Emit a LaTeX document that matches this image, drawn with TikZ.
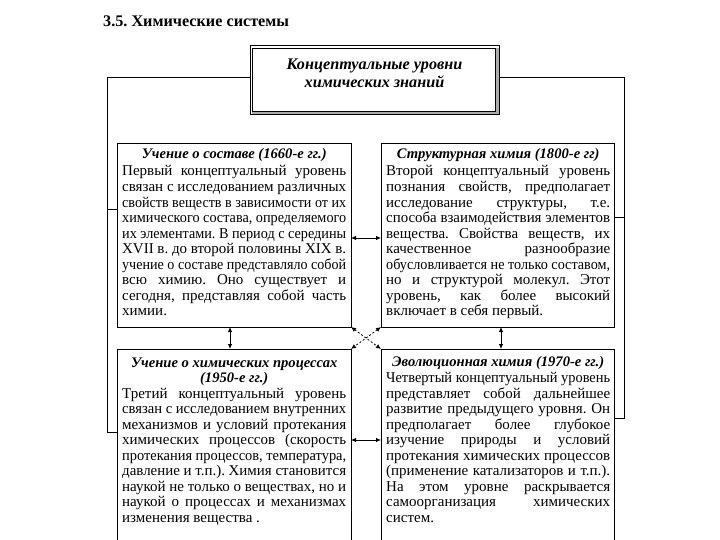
\documentclass[tikz,border=0pt]{standalone}
\usepackage{fontspec}
\setmainfont{Liberation Serif}
\usetikzlibrary{arrows.meta}
\frenchspacing
\newlength\lnw
\newlength\colw
\setlength\colw{224pt}
\newcommand\jl[1]{\settowidth\lnw{#1}\ifdim\lnw>\colw\resizebox{\colw}{\height}{#1}\else\makebox[\colw][s]{#1}\fi}
\newcommand\lastl[1]{\makebox[\colw][l]{#1}}
\newcommand\ttl[1]{\makebox[\colw][c]{\fontsize{14.6}{15.55}\selectfont\bfseries\itshape #1}}
\tikzset{
  boxn/.style={draw, line width=0.8pt, inner sep=0, outer sep=0},
  openbox/.style={inner sep=0, outer sep=0},
  txt/.style={anchor=base west, inner sep=0, font=\fontsize{15}{15.55}\selectfont},
  conn/.style={line width=0.8pt},
  darr/.style={line width=0.8pt, {Latex[length=5pt,width=4.5pt]}-{Latex[length=5pt,width=4.5pt]}},
}
\begin{document}
\begin{tikzpicture}[x=1pt,y=-1pt]
\useasboundingbox (0,0) rectangle (720,540);
\fill[white] (0,0) rectangle (720,540);

\node[anchor=base west, inner sep=0, font=\fontsize{16.2}{18}\selectfont\bfseries] (title) at (103,26.5) {3.5. Химические системы};

% top box
\node[openbox, minimum width=249, minimum height=69] (b0) at (374.5,80.5) {};
\fill[gray!65] ([shift={(2,-4)}]b0.south west) rectangle (b0.south east);
\fill[gray!65] ([shift={(-4,2)}]b0.north east) rectangle (b0.south east);
\draw[line width=1pt] (b0.north west) rectangle (b0.south east);
\draw[line width=0.6pt] ([shift={(2,2)}]b0.north west) rectangle ([shift={(-4,-4)}]b0.south east);
\node[align=center, inner sep=0, font=\fontsize{16.2}{18}\selectfont\bfseries\itshape] (t0) at (374.5,73) {Концептуальные уровни\\химических знаний};

% boxes
\node[boxn, minimum width=234, minimum height=184] (b1) at (234,235) {};
\node[boxn, minimum width=233, minimum height=184] (b2) at (497.5,235) {};
\node[openbox, minimum width=234, minimum height=191] (b3) at (234,444.5) {};
\node[openbox, minimum width=233, minimum height=191] (b4) at (497.5,444.5) {};
\draw[line width=0.8pt] (b3.south west) -- (b3.north west) -- (b3.north east) -- (b3.south east);
\draw[line width=0.8pt] (b4.south west) -- (b4.north west) -- (b4.north east) -- (b4.south east);

\node[txt] (t1) at (122,159) {\parbox[t]{\colw}{\ttl{Учение о составе (1660-е гг.)}\\[1.4pt]
\jl{Первый концептуальный уровень}\\
\jl{связан с исследованием различных}\\
\jl{свойств веществ в зависимости от их}\\
\jl{химического состава, определяемого}\\
\jl{их элементами. В период с середины}\\
\jl{XVII в. до второй половины XIX в.}\\
\jl{учение о составе представляло собой}\\
\jl{всю химию. Оно существует и}\\
\jl{сегодня, представляя собой часть}\\
\lastl{химии.}}};

\node[txt] (t2) at (386,159) {\parbox[t]{\colw}{\ttl{Структурная химия (1800-е гг)}\\[1.4pt]
\jl{Второй концептуальный уровень}\\
\jl{познания свойств, предполагает}\\
\jl{исследование структуры, т.е.}\\
\jl{способа взаимодействия элементов}\\
\jl{вещества. Свойства веществ, их}\\
\jl{качественное разнообразие}\\
\jl{обусловливается не только составом,}\\
\jl{но и структурой молекул. Этот}\\
\jl{уровень, как более высокий}\\
\lastl{включает в себя первый.}}};

\node[txt] (t3) at (122,367) {\parbox[t]{\colw}{\ttl{Учение о химических процессах}\\
\ttl{(1950-е гг.)}\\
\jl{Третий концептуальный уровень}\\
\jl{связан с исследованием внутренних}\\
\jl{механизмов и условий протекания}\\
\jl{химических процессов (скорость}\\
\jl{протекания процессов, температура,}\\
\jl{давление и т.п.). Химия становится}\\
\jl{наукой не только о веществах, но и}\\
\jl{наукой о процессах и механизмах}\\
\lastl{изменения вещества .}}};

\node[txt] (t4) at (386,366) {\parbox[t]{\colw}{\ttl{Эволюционная химия (1970-е гг.)}\\[0.9pt]
\jl{Четвертый концептуальный уровень}\\
\jl{представляет собой дальнейшее}\\
\jl{развитие предыдущего уровня. Он}\\
\jl{предполагает более глубокое}\\
\jl{изучение природы и условий}\\
\jl{протекания химических процессов}\\
\jl{(применение катализаторов и т.п.).}\\
\jl{На этом уровне раскрывается}\\
\jl{самоорганизация химических}\\
\lastl{систем.}}};

% connectors from top box
\draw[conn] (b0.west |- 0,77) -| (107,432) -- (b3.west |- 0,432);
\draw[conn] (107,209) -- (b1.west |- 0,209);
\draw[conn] (b0.east |- 0,77) -| (624,418) -- (b4.east |- 0,418);
\draw[conn] (624,217) -- (b2.east |- 0,217);

% arrows between boxes
\draw[darr] (b1.east |- 0,238) -- (b2.west |- 0,238);
\draw[darr] (b3.east |- 0,440) -- (b4.west |- 0,440);
\draw[darr] (b1.south -| 230,0) -- (b3.north -| 230,0);
\draw[darr] (b2.south -| 501,0) -- (b4.north -| 501,0);
\draw[darr, dash pattern=on 2pt off 2pt] (b1.south east) -- (b4.north west);
\draw[darr, dash pattern=on 2pt off 2pt] (b2.south west) -- (b3.north east);
\end{tikzpicture}
\end{document}
